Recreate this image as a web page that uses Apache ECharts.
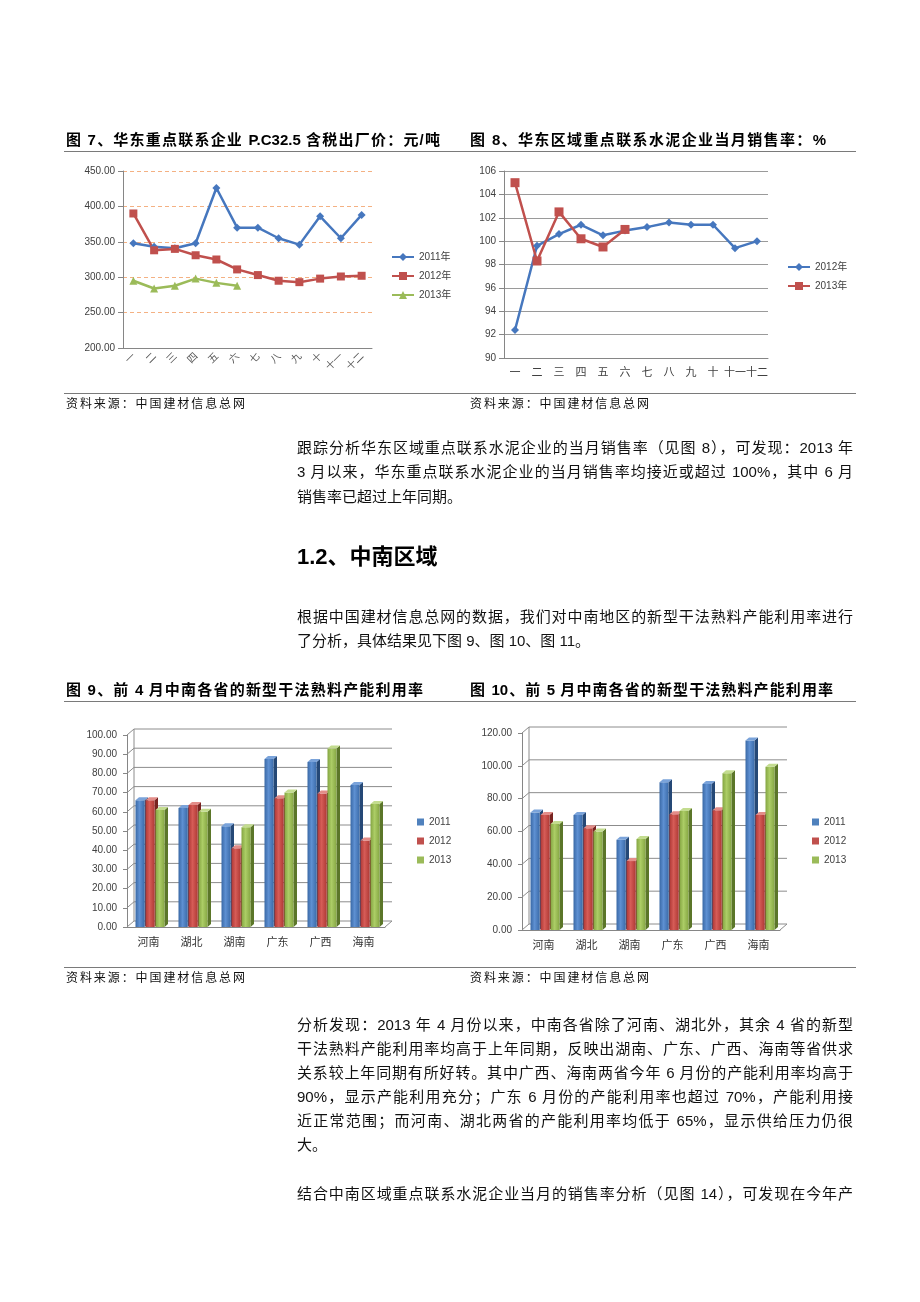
<!DOCTYPE html>
<html><head><meta charset="utf-8">
<script src="https://cdn.jsdelivr.net/npm/echarts@6/dist/echarts.min.js"></script>
<style>
body{margin:0;width:920px;height:1302px;background:#fff;position:relative;overflow:hidden;font-family:"Liberation Sans","Noto Sans CJK SC",sans-serif;color:#000}
.c{position:absolute;left:0;top:0;width:920px;height:1302px}
.t{position:absolute;white-space:nowrap;text-align:justify;text-align-last:justify;z-index:5}
.n{position:absolute;white-space:nowrap;z-index:5}
.ttl{font-size:15px;font-weight:bold;height:20px;line-height:20px}
.src{font-size:12px;height:16px;line-height:16px;color:#111}
.p{font-size:15px;height:20px;line-height:20px;color:#111}
.hr{position:absolute;height:0;border-top:1px solid #7a7a7a;left:64px;width:792px;z-index:5}
</style></head>
<body>
<div id="c7" class="c"></div>
<div id="c8" class="c"></div>
<div id="c9" class="c"></div>
<div id="c10" class="c"></div>

<div class="t ttl" style="left:66px;top:130px;width:374px">图 7、华东重点联系企业 P.C32.5 含税出厂价：元/吨</div>
<div class="t ttl" style="left:470px;top:130px;width:356px">图 8、华东区域重点联系水泥企业当月销售率：%</div>
<div class="hr" style="top:151px"></div>
<div class="hr" style="top:393px"></div>
<div class="t src" style="left:66px;top:396px;width:179px">资料来源：中国建材信息总网</div>
<div class="t src" style="left:470px;top:396px;width:179px">资料来源：中国建材信息总网</div>

<div class="t p" style="left:297px;top:438px;width:556px">跟踪分析华东区域重点联系水泥企业的当月销售率（见图 8），可发现：2013 年</div>
<div class="t p" style="left:297px;top:462px;width:556px">3 月以来，华东重点联系水泥企业的当月销售率均接近或超过 100%，其中 6 月</div>
<div class="n p" style="left:297px;top:487px">销售率已超过上年同期。</div>

<div class="n" style="left:297px;top:543px;font-size:22px;font-weight:bold;line-height:28px;height:28px">1.2、中南区域</div>

<div class="t p" style="left:297px;top:607px;width:556px">根据中国建材信息总网的数据，我们对中南地区的新型干法熟料产能利用率进行</div>
<div class="n p" style="left:297px;top:631px">了分析，具体结果见下图 9、图 10、图 11。</div>

<div class="t ttl" style="left:66px;top:680px;width:357px">图 9、前 4 月中南各省的新型干法熟料产能利用率</div>
<div class="t ttl" style="left:470px;top:680px;width:363px">图 10、前 5 月中南各省的新型干法熟料产能利用率</div>
<div class="hr" style="top:701px"></div>
<div class="hr" style="top:967px"></div>
<div class="t src" style="left:66px;top:970px;width:179px">资料来源：中国建材信息总网</div>
<div class="t src" style="left:470px;top:970px;width:179px">资料来源：中国建材信息总网</div>

<div class="t p" style="left:297px;top:1015px;width:556px">分析发现：2013 年 4 月份以来，中南各省除了河南、湖北外，其余 4 省的新型</div>
<div class="t p" style="left:297px;top:1039px;width:556px">干法熟料产能利用率均高于上年同期，反映出湖南、广东、广西、海南等省供求</div>
<div class="t p" style="left:297px;top:1063px;width:556px">关系较上年同期有所好转。其中广西、海南两省今年 6 月份的产能利用率均高于</div>
<div class="t p" style="left:297px;top:1087px;width:556px">90%，显示产能利用充分；广东 6 月份的产能利用率也超过 70%，产能利用接</div>
<div class="t p" style="left:297px;top:1111px;width:556px">近正常范围；而河南、湖北两省的产能利用率均低于 65%，显示供给压力仍很</div>
<div class="n p" style="left:297px;top:1135px">大。</div>
<div class="t p" style="left:297px;top:1184px;width:556px">结合中南区域重点联系水泥企业当月的销售率分析（见图 14），可发现在今年产</div>

<script>
const months = ['一','二','三','四','五','六','七','八','九','十','十一','十二'];
const price2011 = [348,343,341,348,426,370,370,355,346,386,355,388];
const price2012 = [390,338,340,331,325,311,303,295,293,298,301,302];
const price2013 = [295,284,288,298,292,288];
const sales2012 = [92.4,99.6,100.6,101.4,100.5,100.9,101.2,101.6,101.4,101.4,99.4,100.0];
const sales2013 = [105.0,98.3,102.5,100.2,99.5,101.0];
const provinces = ['河南','湖北','湖南','广东','广西','海南'];
const apr2011 = [66,62,52.5,87.5,86,74];
const apr2012 = [66,63.5,41,67,69.5,45];
const apr2013 = [61,60,52,70,93,64];
const may2011 = [71.5,70,55,90,89,115.5];
const may2012 = [70,62,42,70.5,73,70];
const may2013 = [64.5,60,55.5,72.5,95.5,99.5];
const ticks9 = [0,10,20,30,40,50,60,70,80,90,100];
const ticks10 = [0,20,40,60,80,100,120];

const BLUE='#4677BE', RED='#C0504D', GREEN='#9BBB59';
const axisGrey='#868686';
const labelFont = {fontSize:10,color:'#404040',fontFamily:'Liberation Sans'};

function lineChart(el, opt){ const c = echarts.init(document.getElementById(el)); c.setOption(opt); }

// Chart 7
lineChart('c7', {
  animation:false,
  grid:{left:123, top:171, width:249, height:177},
  legend:{orient:'vertical', left:386, top:246, itemWidth:22, itemHeight:10, itemGap:7,
    textStyle:{fontSize:10,color:'#404040',lineHeight:12,fontFamily:'Liberation Sans, Noto Sans CJK SC'},
    data:['2011年','2012年','2013年']},
  xAxis:{type:'category', data:months, boundaryGap:true,
    axisLine:{lineStyle:{color:axisGrey}}, axisTick:{lineStyle:{color:axisGrey}},
    axisLabel:{rotate:45, fontSize:10, color:'#595959', margin:6, fontFamily:'Noto Sans CJK SC'}},
  yAxis:{type:'value', min:200, max:450, interval:50,
    axisLine:{show:true, lineStyle:{color:axisGrey}}, axisTick:{show:true, lineStyle:{color:axisGrey}},
    splitLine:{lineStyle:{color:'#F4B183', type:[4,3]}},
    axisLabel:Object.assign({formatter:v=>v.toFixed(2), margin:8}, labelFont)},
  series:[
    {name:'2011年', type:'line', data:price2011, symbol:'diamond', symbolSize:8, lineStyle:{width:2.5,color:BLUE}, itemStyle:{color:BLUE}},
    {name:'2012年', type:'line', data:price2012, symbol:'rect', symbolSize:8, lineStyle:{width:2.5,color:RED}, itemStyle:{color:RED}},
    {name:'2013年', type:'line', data:price2013, symbol:'triangle', symbolSize:8, lineStyle:{width:2.5,color:GREEN}, itemStyle:{color:GREEN}}
  ]
});

// Chart 8
lineChart('c8', {
  animation:false,
  grid:{left:504, top:171, width:264, height:187},
  legend:{orient:'vertical', left:782, top:256, itemWidth:22, itemHeight:10, itemGap:7,
    textStyle:{fontSize:10,color:'#404040',lineHeight:12,fontFamily:'Liberation Sans, Noto Sans CJK SC'},
    data:['2012年','2013年']},
  xAxis:{type:'category', data:months, boundaryGap:true,
    axisLine:{lineStyle:{color:axisGrey}}, axisTick:{lineStyle:{color:axisGrey}},
    axisLabel:{fontSize:11, color:'#404040', margin:8, interval:0, fontFamily:'Noto Sans CJK SC'}},
  yAxis:{type:'value', min:90, max:106, interval:2,
    axisLine:{show:true, lineStyle:{color:axisGrey}}, axisTick:{show:true, lineStyle:{color:axisGrey}},
    splitLine:{lineStyle:{color:'#9a9a9a', width:1}},
    axisLabel:Object.assign({margin:8}, labelFont)},
  series:[
    {name:'2012年', type:'line', data:sales2012, symbol:'diamond', symbolSize:8, lineStyle:{width:2.5,color:BLUE}, itemStyle:{color:BLUE}},
    {name:'2013年', type:'line', data:sales2013, symbol:'rect', symbolSize:9, lineStyle:{width:2.5,color:RED}, itemStyle:{color:RED}}
  ]
});

// 3D bar charts
const DX=7, DY=-6, BD=3.5, BDY=-3;
const palette = [
  {stops:['#3A69A6','#5E90D2','#3C6CAA'], side:'#254876', top:'#7AA3DA', color:'#4F81BD'},
  {stops:['#AE3835','#D65C57','#B03A36'], side:'#782320', top:'#E38D89', color:'#C0504D'},
  {stops:['#84A542','#ACCD66','#86A744'], side:'#5B7629', top:'#C3DC8F', color:'#9BBB59'}
];
function barRender(si){
  return function(params, api){
    const cat = api.value(0), val = api.value(1);
    const base = api.coord([cat, 0]);
    const top = api.coord([cat, val]);
    const w = 9;
    const x0 = base[0] - 13 + si*10;
    const p = palette[si];
    const h = base[1]-top[1];
    return {type:'group', children:[
      {type:'polygon', shape:{points:[[x0+w,top[1]],[x0+w+BD,top[1]+BDY],[x0+w+BD,base[1]+BDY],[x0+w,base[1]]]}, style:{fill:p.side}},
      {type:'rect', shape:{x:x0, y:top[1], width:w, height:h},
        style:{fill:{type:'linear',x:0,y:0,x2:1,y2:0,colorStops:[{offset:0,color:p.stops[0]},{offset:0.45,color:p.stops[1]},{offset:1,color:p.stops[2]}]}}},
      {type:'polygon', shape:{points:[[x0,top[1]],[x0+BD,top[1]+BDY],[x0+w+BD,top[1]+BDY],[x0+w,top[1]]]}, style:{fill:p.top}}
    ]};
  };
}
function wallRender(params, api){
  const cs = params.coordSys;
  const v = api.value(1);
  const y = api.coord([0, v])[1];
  const children = [
    {type:'polyline', shape:{points:[[cs.x, y],[cs.x+DX, y+DY],[cs.x+cs.width+DX, y+DY]]}, style:{stroke:'#8c8c8c', lineWidth:1, fill:null}}
  ];
  if (v === 0) {
    children.push({type:'line', shape:{x1:cs.x+cs.width, y1:y, x2:cs.x+cs.width+DX, y2:y+DY}, style:{stroke:'#8c8c8c', lineWidth:1}});
    children.push({type:'line', shape:{x1:cs.x+DX, y1:y+DY, x2:cs.x+DX, y2:cs.y+DY}, style:{stroke:'#8c8c8c', lineWidth:1}});
  }
  return {type:'group', children};
}
function barChart(el, grid, max, interval, ticks, d1, d2, d3, legendLeft){
  const c = echarts.init(document.getElementById(el));
  const mk = arr => arr.map((v,i)=>[i,v]);
  c.setOption({
    animation:false,
    grid:grid,
    legend:{orient:'vertical', left:legendLeft, top:811, itemWidth:7, itemHeight:7, itemGap:7, icon:'rect',
      textStyle:{fontSize:10,color:'#404040',lineHeight:12,fontFamily:'Liberation Sans'},
      data:['2011','2012','2013']},
    xAxis:{type:'category', data:provinces, boundaryGap:true,
      axisLine:{lineStyle:{color:axisGrey}}, axisTick:{length:4, lineStyle:{color:axisGrey}},
      axisLabel:{fontSize:11, color:'#333', margin:9, interval:0, fontFamily:'Noto Sans CJK SC'}},
    yAxis:{type:'value', min:0, max:max, interval:interval,
      axisLine:{show:true, lineStyle:{color:axisGrey}}, axisTick:{show:true, length:4, lineStyle:{color:axisGrey}},
      splitLine:{show:false},
      axisLabel:Object.assign({formatter:v=>v.toFixed(2), margin:10}, labelFont)},
    series:[
      {name:'walls', type:'custom', renderItem:wallRender, data:ticks.map(t=>[0,t]), z:1, silent:true},
      {name:'2011', type:'custom', renderItem:barRender(0), data:mk(d1), itemStyle:{color:palette[0].color}, z:3},
      {name:'2012', type:'custom', renderItem:barRender(1), data:mk(d2), itemStyle:{color:palette[1].color}, z:3},
      {name:'2013', type:'custom', renderItem:barRender(2), data:mk(d3), itemStyle:{color:palette[2].color}, z:3}
    ]
  });
}
barChart('c9', {left:127, top:735, width:258, height:192}, 100, 10, ticks9, apr2011, apr2012, apr2013, 412);
barChart('c10', {left:522, top:733, width:258, height:197}, 120, 20, ticks10, may2011, may2012, may2013, 807);
</script>
</body></html>
